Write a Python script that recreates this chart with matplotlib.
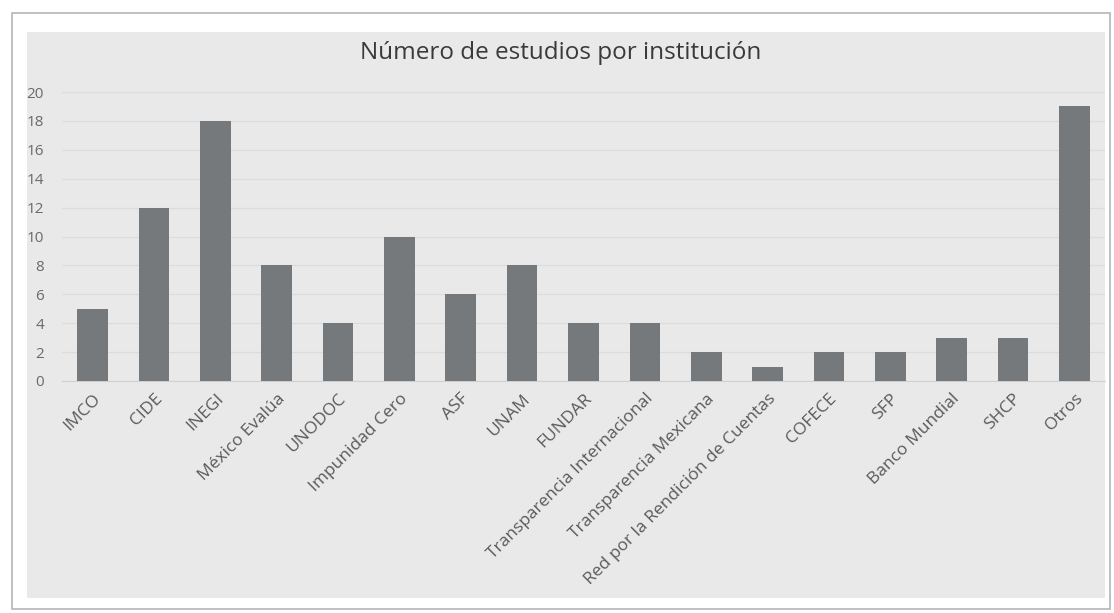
import matplotlib
matplotlib.use("Agg")
import matplotlib.pyplot as plt
from matplotlib.patches import Rectangle

plt.rcParams["font.family"] = ["Open Sans", "DejaVu Sans"]

categories = ["IMCO", "CIDE", "INEGI", "México Evalúa", "UNODOC", "Impunidad Cero",
              "ASF", "UNAM", "FUNDAR", "Transparencia Internacional",
              "Transparencia Mexicana", "Red por la Rendición de Cuentas",
              "COFECE", "SFP", "Banco Mundial", "SHCP", "Otros"]
values = [5, 12, 18, 8, 4, 10, 6, 8, 4, 4, 2, 1, 2, 2, 3, 3, 19]
yticks = list(range(0, 21, 2))
title = "Número de estudios por institución"

W, H = 1114, 613
fig = plt.figure(figsize=(W/100, H/100), dpi=100)
fig.patch.set_facecolor("white")

# outer chart border
fig.patches.append(Rectangle((12/W, 1-609/H), (1110-12)/W, (609-13)/H,
                             transform=fig.transFigure, facecolor="white",
                             edgecolor="#b5b5b5", lw=1.2, zorder=-2))
# grey chart area
fig.patches.append(Rectangle((27/W, 1-598/H), (1105-27)/W, (598-32)/H,
                             transform=fig.transFigure, facecolor="#e9e9e9",
                             edgecolor="none", zorder=-1))

left, right = 62/W, 1105/W
bottom, top = 1-381/H, 1-92/H
ax = fig.add_axes([left, bottom, right-left, top-bottom])
ax.set_facecolor("none")

x = list(range(len(categories)))
ax.bar(x, values, width=0.5, color="#76797c", zorder=3)
ax.set_xlim(-0.5, len(categories)-0.5)
ax.set_ylim(0, 20)
ax.set_yticks(yticks)
ax.set_yticklabels([str(t) for t in yticks], fontsize=11, color="#6a6a6a")
ax.yaxis.grid(True, color="#dcdcdc", lw=0.9, zorder=0)
ax.set_axisbelow(True)
ax.tick_params(axis="y", length=0, pad=13)
ax.tick_params(axis="x", length=0, pad=7)
ax.set_xticks(x)
ax.set_xticklabels(categories, rotation=45, ha="right", rotation_mode="anchor",
                   fontsize=12.5, color="#5a5a5a")
for s in ax.spines.values():
    s.set_visible(False)
ax.spines["bottom"].set_visible(True)
ax.spines["bottom"].set_color("#d0d0d0")

fig.text(561/W, 1-53/H, title, ha="center", va="center", fontsize=17.5,
         color="#3a3a3a")

fig.savefig("out.png", dpi=100)
